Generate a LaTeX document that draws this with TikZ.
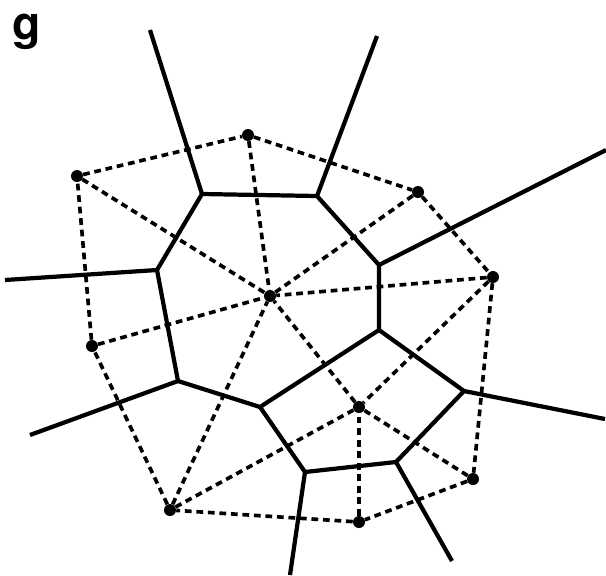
\documentclass[tikz,border=0pt]{standalone}
\usepackage{fontspec}
\setmainfont{TeX Gyre Heros}
\usepackage{tikz}

\begin{document}
\begin{tikzpicture}[
  x=0.025cm, y=-0.025cm,
  site/.style={circle, fill=black, inner sep=0pt, minimum size=0.3cm},
  cell/.style={line width=3pt, line join=round},
  dual/.style={line width=2.6pt, dash pattern=on 4.8pt off 3.4pt},
  tag/.style={font=\bfseries\fontsize{33}{33}\selectfont, inner sep=0pt, anchor=base west},
]
  \useasboundingbox (0,0) rectangle (606,575);

  % Panel label
  \node[tag] (panel) at (12,39) {g};

  % Sites
  \node[site] (a) at (248,135) {};
  \node[site] (b) at (77,176) {};
  \node[site] (c) at (418,192) {};
  \node[site] (d) at (493,277) {};
  \node[site] (e) at (270,296) {};
  \node[site] (f) at (92,346) {};
  \node[site] (g) at (359,407) {};
  \node[site] (h) at (473,479) {};
  \node[site] (i) at (170,510) {};
  \node[site] (j) at (359,522) {};

  % Voronoi vertices
  \coordinate (vab) at (202,194);
  \coordinate (vac) at (317,196);
  \coordinate (vcd) at (379,265);
  \coordinate (vbf) at (157,270);
  \coordinate (vdg) at (379,330);
  \coordinate (vfi) at (178,381);
  \coordinate (veg) at (260,407);
  \coordinate (vdh) at (464,391);
  \coordinate (vgj) at (305,472);
  \coordinate (vhj) at (396,462);

  % Ray ends
  \coordinate (rab) at (150,30);
  \coordinate (rac) at (377,36);
  \coordinate (rcd) at (606,150);
  \coordinate (rbf) at (5,280);
  \coordinate (rfi) at (30,435);
  \coordinate (rdh) at (605,419);
  \coordinate (rij) at (290,575);
  \coordinate (rhj) at (452,561);

  % Delaunay edges
  \draw[dual] (b) -- (a) -- (c) -- (d) -- (h) -- (j) -- (i) -- (f) -- (b);
  \draw[dual] (a) -- (e);
  \draw[dual] (b) -- (e);
  \draw[dual] (c) -- (e);
  \draw[dual] (d) -- (e);
  \draw[dual] (f) -- (e);
  \draw[dual] (i) -- (e);
  \draw[dual] (g) -- (e);
  \draw[dual] (d) -- (g);
  \draw[dual] (h) -- (g);
  \draw[dual] (j) -- (g);
  \draw[dual] (i) -- (g);

  % Voronoi edges
  \draw[cell] (vbf) -- (vab) -- (vac) -- (vcd) -- (vdg) -- (veg) -- (vfi) -- (vbf);
  \draw[cell] (vdg) -- (vdh) -- (vhj) -- (vgj) -- (veg);
  \draw[cell] (vab) -- (rab);
  \draw[cell] (vac) -- (rac);
  \draw[cell] (vcd) -- (rcd);
  \draw[cell] (vbf) -- (rbf);
  \draw[cell] (vfi) -- (rfi);
  \draw[cell] (vdh) -- (rdh);
  \draw[cell] (vgj) -- (rij);
  \draw[cell] (vhj) -- (rhj);

\end{tikzpicture}
\end{document}
